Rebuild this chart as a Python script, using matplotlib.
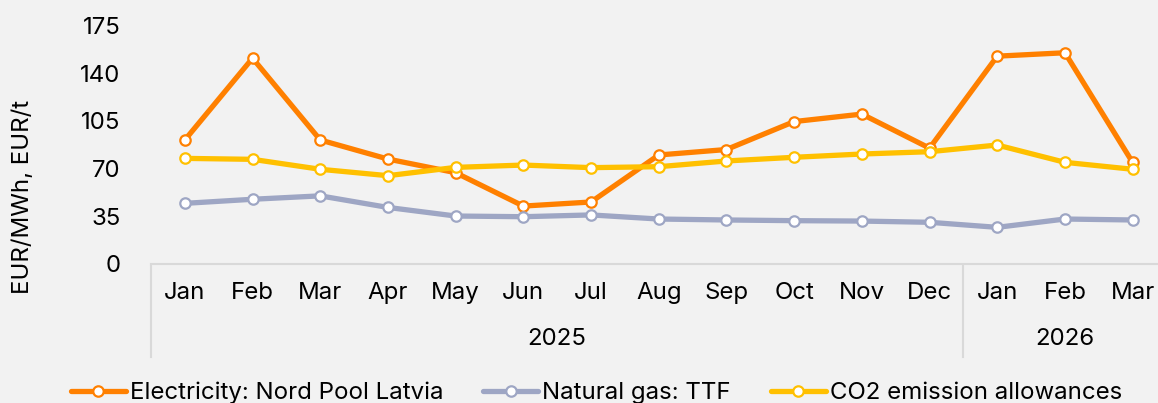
import matplotlib
matplotlib.use("Agg")
import matplotlib.pyplot as plt
from matplotlib.transforms import blended_transform_factory

plt.rcParams['font.family'] = ['Inter', 'DejaVu Sans']

months = ["Jan", "Feb", "Mar", "Apr", "May", "Jun", "Jul", "Aug", "Sep", "Oct", "Nov", "Dec",
          "Jan", "Feb", "Mar"]
years = ["2025", "2026"]
year_spans = [(0, 11), (12, 14)]

electricity = [91, 151, 91, 77, 67, 42.5, 45.5, 80, 84, 104.5, 110, 85, 152.5, 155, 74.5]
gas = [44.5, 47.5, 50, 41.5, 35.2, 34.7, 36, 33, 32.3, 31.8, 31.5, 30.6, 26.9, 33, 32.3]
co2 = [77.5, 76.8, 69.5, 64.8, 70.9, 72.6, 70.7, 71.4, 75.6, 78.3, 80.7, 82.4, 87.3, 74.6, 69.5]

series = [
    ("Electricity: Nord Pool Latvia", electricity, "#FF8000"),
    ("Natural gas: TTF", gas, "#9EA6C4"),
    ("CO2 emission allowances", co2, "#FFC000"),
]

yticks = [0, 35, 70, 105, 140, 175]

FS = 17.3
W, H = 1158, 403
fig = plt.figure(figsize=(W / 100, H / 100), dpi=100)
bg = "#F2F2F2"
fig.patch.set_facecolor(bg)

left_px, right_px, top_px, bottom_px = 151, 151 + 15 * 67.7, 25.5, 264
ax = fig.add_axes([left_px / W, 1 - bottom_px / H, (right_px - left_px) / W, (bottom_px - top_px) / H])
ax.set_facecolor(bg)

x = list(range(len(months)))
for name, vals, col in series:
    ax.plot(x, vals, color=col, lw=3.8, marker="o", ms=7.5, mfc="white", mec=col, mew=1.6,
            label=name, solid_capstyle="round", clip_on=False)

ax.set_xlim(-0.5, len(months) - 0.5)
ax.set_ylim(0, 175)
ax.set_yticks(yticks)
ax.set_yticklabels([str(v) for v in yticks], fontsize=FS, color="#000000")
ax.tick_params(axis="y", length=0, pad=22)
ax.set_xticks([])

for s in ["top", "right", "left"]:
    ax.spines[s].set_visible(False)
ax.spines["bottom"].set_color("#D9D9D9")
ax.spines["bottom"].set_linewidth(1.5)

tr = blended_transform_factory(ax.transData, fig.transFigure)
for i, m in enumerate(months):
    ax.text(i, 1 - 293 / H, m, transform=tr, ha="center", va="center", fontsize=FS, color="#000000")
for yr, (a, b) in zip(years, year_spans):
    ax.text((a + b) / 2, 1 - 339 / H, yr, transform=tr, ha="center", va="center", fontsize=FS,
            color="#000000")
for xs in [-0.5, 11.5, 14.5]:
    ax.plot([xs, xs], [1 - 265 / H, 1 - 357 / H], transform=tr, color="#D9D9D9", lw=1.5,
            clip_on=False)

fig.text(23 / W, 1 - 197 / H, "EUR/MWh, EUR/t", rotation=90, ha="center", va="center",
         fontsize=FS, color="#000000")

fig.legend(loc="center", bbox_to_anchor=(596.5 / W, 1 - 393 / H), ncol=3, frameon=False,
           fontsize=FS, handlelength=2.3, handletextpad=0.17, columnspacing=1.65, borderpad=0,
           borderaxespad=0)

fig.savefig("out.png", dpi=100, facecolor=bg)
